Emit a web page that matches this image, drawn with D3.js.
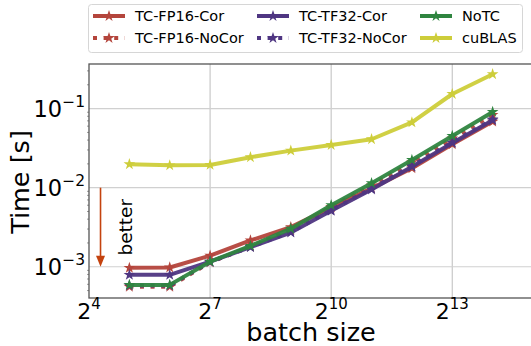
<!DOCTYPE html>
<html>
<head>
<meta charset="utf-8">
<script src="https://cdn.jsdelivr.net/npm/d3@7"></script>
<style>
  body { margin: 0; background: #fff; }
  svg { font-family: "DejaVu Sans", sans-serif; display: block; }
</style>
</head>
<body>
<div id="chart"></div>
<script>
const width = 531, height = 346;
const margin = { top: 64, right: -2, bottom: 48, left: 89 };
const innerWidth = width - margin.left - margin.right;
const innerHeight = height - margin.top - margin.bottom;

// batch sizes 2^5 .. 2^14
const batchSizes = [32, 64, 128, 256, 512, 1024, 2048, 4096, 8192, 16384];

const fp16Cor   = [0.00097, 0.00098, 0.00138, 0.00215, 0.00317, 0.0056, 0.0098, 0.0176, 0.0354, 0.0685];
const fp16NoCor = [0.00056, 0.00056, 0.00114, 0.00180, 0.00290, 0.0057, 0.0107, 0.0210, 0.0420, 0.0830];
const tf32Cor   = [0.00079, 0.00079, 0.00116, 0.00177, 0.00271, 0.0051, 0.0095, 0.0184, 0.0368, 0.0713];
const tf32NoCor = [0.00058, 0.00058, 0.00115, 0.00178, 0.00275, 0.0052, 0.0097, 0.0188, 0.0375, 0.0730];
const noTC      = [0.00059, 0.00059, 0.00116, 0.00184, 0.00303, 0.0060, 0.0114, 0.0224, 0.0451, 0.0908];
const cuBLAS    = [0.0198, 0.0192, 0.0194, 0.0243, 0.0294, 0.0347, 0.0410, 0.0670, 0.1530, 0.2720];

const seriesNames = ["TC-FP16-Cor", "TC-FP16-NoCor", "TC-TF32-Cor", "TC-TF32-NoCor", "NoTC", "cuBLAS"];
const seriesValues = [fp16Cor, fp16NoCor, tf32Cor, tf32NoCor, noTC, cuBLAS];
const seriesColors = ["#b4453c", "#b4453c", "#4f3682", "#4f3682", "#2f8540", "#cdcd3a"];
const seriesDashed = [false, true, false, true, false, false];

const xTickExps = [4, 7, 10, 13];
const yTickExps = [-1, -2, -3];

const svg = d3.select("#chart").append("svg")
  .attr("width", width)
  .attr("height", height);

const innerChart = svg.append("g")
  .attr("transform", `translate(${margin.left}, ${margin.top})`);

const xScale = d3.scaleLog().base(2)
  .domain([16, 32768])
  .range([0, innerWidth]);

const yScale = d3.scaleLog()
  .domain([Math.pow(10, -3.395), Math.pow(10, -0.436)])
  .range([innerHeight, 0]);

// grid
innerChart.selectAll(".vgrid")
  .data(xTickExps.slice(1))
  .join("line")
    .attr("x1", d => xScale(Math.pow(2, d)))
    .attr("x2", d => xScale(Math.pow(2, d)))
    .attr("y1", 0).attr("y2", innerHeight)
    .attr("stroke", "#c8c8c8").attr("stroke-width", 1.2);

innerChart.selectAll(".hgrid")
  .data(yTickExps)
  .join("line")
    .attr("x1", 0).attr("x2", innerWidth)
    .attr("y1", d => yScale(Math.pow(10, d)))
    .attr("y2", d => yScale(Math.pow(10, d)))
    .attr("stroke", "#d0d0d0").attr("stroke-width", 1.2);

// minor ticks on y
const minorTicks = [];
for (let e = -4; e <= -1; e++) {
  for (let m = 2; m <= 9; m++) {
    const v = m * Math.pow(10, e);
    if (v > yScale.domain()[0] && v < yScale.domain()[1]) minorTicks.push(v);
  }
}
innerChart.selectAll(".ytick-minor")
  .data(minorTicks)
  .join("line")
    .attr("x1", -2).attr("x2", 0)
    .attr("y1", d => yScale(d)).attr("y2", d => yScale(d))
    .attr("stroke", "#555").attr("stroke-width", 0.6);

// lines
const lineGenerator = d3.line()
  .x(d => xScale(d[0]))
  .y(d => yScale(d[1]));

const star = d3.symbol().type(d3.symbolStar).size(42);

seriesValues.forEach((values, i) => {
  const pts = batchSizes.map((b, j) => [b, values[j]]);
  const g = innerChart.append("g");
  g.append("path")
    .attr("d", lineGenerator(pts))
    .attr("fill", "none")
    .attr("stroke", seriesColors[i])
    .attr("stroke-width", 4)
    .attr("stroke-dasharray", seriesDashed[i] ? "4,6.6" : null)
    .attr("stroke-linejoin", "round")
    .attr("opacity", 0.95);
  g.selectAll("path.mk")
    .data(pts)
    .join("path")
      .attr("class", "mk")
      .attr("d", star)
      .attr("transform", d => `translate(${xScale(d[0])}, ${yScale(d[1])})`)
      .attr("fill", seriesColors[i]);
});

// spines
innerChart.append("rect")
  .attr("x", 0).attr("y", 0)
  .attr("width", innerWidth).attr("height", innerHeight)
  .attr("fill", "none")
  .attr("stroke", "#555").attr("stroke-width", 1.3);

// x tick labels
const xLabels = innerChart.selectAll(".xlabel")
  .data(xTickExps)
  .join("text")
    .attr("x", d => xScale(Math.pow(2, d)))
    .attr("y", innerHeight + 21)
    .attr("font-size", 22)
    .attr("text-anchor", "middle")
    .attr("fill", "#000");
xLabels.append("tspan").text("2");
xLabels.append("tspan").text(d => d).attr("font-size", 15).attr("dy", -10);

// y tick labels
const yLabels = innerChart.selectAll(".ylabel")
  .data(yTickExps)
  .join("text")
    .attr("x", -4)
    .attr("y", d => yScale(Math.pow(10, d)) + 8)
    .attr("font-size", 22.5)
    .attr("text-anchor", "end")
    .attr("fill", "#000");
yLabels.append("tspan").text("10");
yLabels.append("tspan").text(d => "\u2212" + Math.abs(d)).attr("font-size", 15.5).attr("dy", -10);

// axis titles
svg.append("text")
  .attr("x", margin.left + (xScale(32768)) / 2)
  .attr("y", 341)
  .attr("text-anchor", "middle")
  .attr("font-size", 25.5)
  .text("batch size");

svg.append("text")
  .attr("transform", `translate(29, 182) rotate(-90)`)
  .attr("text-anchor", "middle")
  .attr("font-size", 25.5)
  .text("Time [s]");

// "better" arrow
const arrowX = xScale(19.5);
innerChart.append("line")
  .attr("x1", arrowX).attr("x2", arrowX)
  .attr("y1", yScale(1e-2)).attr("y2", yScale(1e-3) - 8)
  .attr("stroke", "#c4420e").attr("stroke-width", 1.6);
innerChart.append("path")
  .attr("d", `M${arrowX - 4.5},${yScale(1e-3) - 11} L${arrowX + 4.5},${yScale(1e-3) - 11} L${arrowX},${yScale(1e-3)} Z`)
  .attr("fill", "#c4420e");
innerChart.append("text")
  .attr("transform", `translate(43, ${(yScale(1e-2) + yScale(1e-3)) / 2}) rotate(-90)`)
  .attr("text-anchor", "middle")
  .attr("font-size", 18.5)
  .text("better");

// legend
const legend = svg.append("g");
legend.append("rect")
  .attr("x", 88.5).attr("y", 4.5)
  .attr("width", 434).attr("height", 48)
  .attr("rx", 3)
  .attr("fill", "#fff")
  .attr("stroke", "#d6d6d6");

const legendCols = [93, 257, 420];
const legendRows = [16, 38];
seriesNames.forEach((name, si) => {
  const col = Math.floor(si / 2), row = si % 2;
  const lx = legendCols[col], ly = legendRows[row];
  const item = legend.append("g").attr("transform", `translate(${lx}, ${ly})`);
  item.append("line")
    .attr("x1", 0).attr("x2", 32)
    .attr("y1", 0).attr("y2", 0)
    .attr("stroke", seriesColors[si])
    .attr("stroke-width", 4)
    .attr("stroke-dasharray", seriesDashed[si] ? "4,6.6" : null);
  item.append("path")
    .attr("d", star)
    .attr("transform", "translate(16, 0)")
    .attr("fill", seriesColors[si]);
  item.append("text")
    .attr("x", 42).attr("y", 5)
    .attr("font-size", 14.5)
    .text(name);
});
</script>
</body>
</html>
